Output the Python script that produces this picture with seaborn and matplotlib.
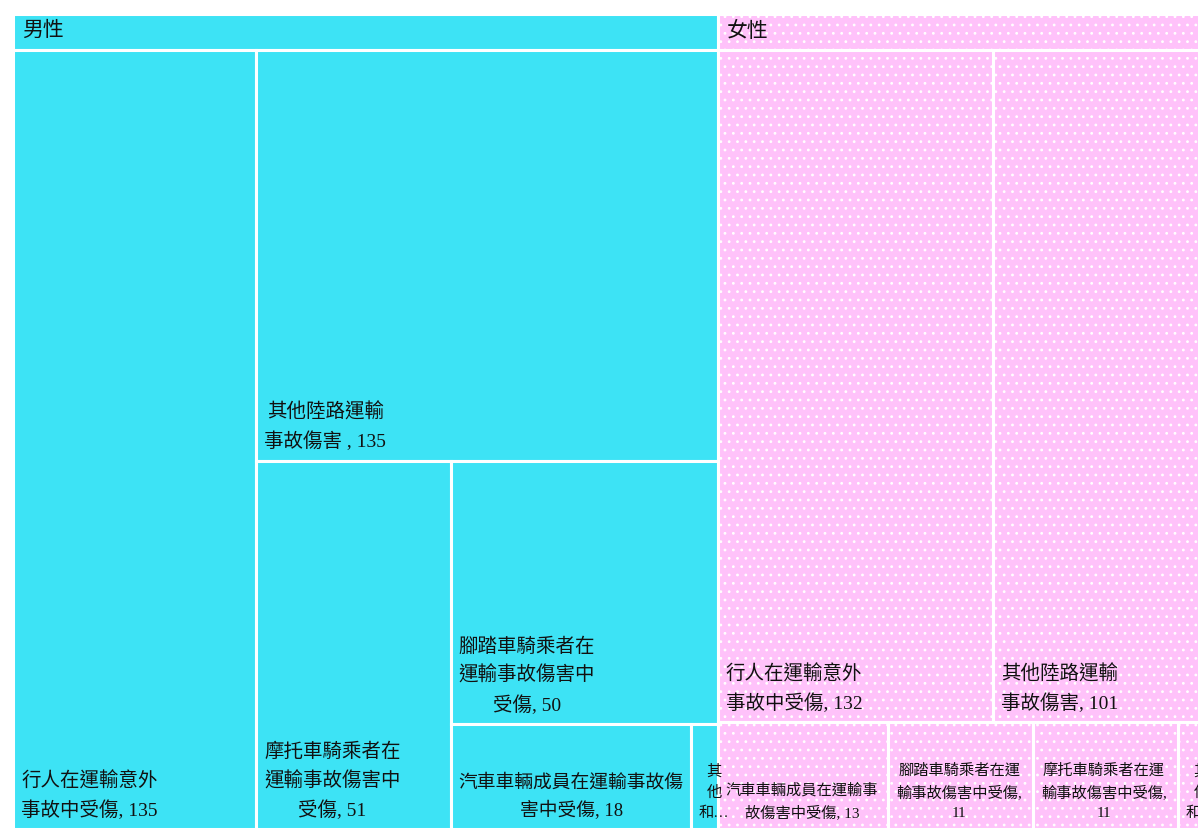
import matplotlib
matplotlib.use("Agg")
import matplotlib.pyplot as plt
from matplotlib.patches import Rectangle
import seaborn as sns

# ==============================
# DATA
# ==============================
groups = ["男性", "女性"]

male_values = [135, 135, 51, 50, 18, 2]
male_labels = [
    "行人在運輸意外\n事故中受傷, {v}",
    "其他陸路運輸\n事故傷害 , {v}",
    "摩托車騎乘者在\n運輸事故傷害中\n受傷, {v}",
    "腳踏車騎乘者在\n運輸事故傷害中\n受傷, {v}",
    "汽車車輛成員在運輸事故傷\n害中受傷, {v}",
    "其\n他\n和…",
]

female_values = [132, 101, 13, 11, 11, 2]
female_labels = [
    "行人在運輸意外\n事故中受傷, {v}",
    "其他陸路運輸\n事故傷害, {v}",
    "汽車車輛成員在運輸事\n故傷害中受傷, {v}",
    "腳踏車騎乘者在運\n輸事故傷害中受傷,\n{v}",
    "摩托車騎乘者在運\n輸事故傷害中受傷,\n{v}",
    "其\n他\n和…",
]

# how each group is cut into strips: (items in strip, direction)
male_strips = [(1, "col"), (1, "row"), (1, "col"), (1, "row"), (2, "row")]
female_strips = [(2, "row"), (4, "row")]

# ==============================
# SETUP
# ==============================
sns.set_theme(style="white")
plt.rcParams["font.family"] = ["Liberation Serif", "Noto Sans CJK TC"]
plt.rcParams["hatch.color"] = "white"
plt.rcParams["hatch.linewidth"] = 0.8

colors = {"男性": "#3DE3F5", "女性": "#FFC2FA"}
hatches = {"男性": None, "女性": ".."}

W, H = 1198, 831
fig = plt.figure(figsize=(W / 100, H / 100), dpi=100)
ax = fig.add_axes([0, 0, 1, 1])
ax.set_xlim(0, W)
ax.set_ylim(H, 0)
ax.axis("off")
renderer = fig.canvas.get_renderer()

# treemap frame (pixels), header height
X0, Y0, X1, Y1 = 13, 14, 1204, 829
HEAD = 35.5
LW = 2.2


def strip_layout(values, strips, x0, y0, x1, y1):
    rects = []
    i = 0
    for n, kind in strips:
        chunk = values[i:i + n]
        frac = sum(chunk) / sum(values[i:])
        if kind == "col":
            xe = x0 + (x1 - x0) * frac
            yy = y0
            for v in chunk:
                h = (y1 - y0) * v / sum(chunk)
                rects.append((x0, yy, xe - x0, h))
                yy += h
            x0 = xe
        else:
            ye = y0 + (y1 - y0) * frac
            xx = x0
            for v in chunk:
                w = (x1 - x0) * v / sum(chunk)
                rects.append((xx, y0, w, ye - y0))
                xx += w
            y0 = ye
        i += n
    return rects


def fit_text(x, y, s, maxw, size=14, minsize=11):
    t = ax.text(x, y, s, ha="left", va="bottom", multialignment="center",
                fontsize=size, linespacing=1.65, color="#111111")
    while size > minsize:
        if t.get_window_extent(renderer=renderer).width <= maxw:
            break
        size -= 0.5
        t.set_fontsize(size)
    return t


totals = [sum(male_values), sum(female_values)]
data = {
    "男性": (male_values, male_labels, male_strips),
    "女性": (female_values, female_labels, female_strips),
}

gx = X0
for g, tot in zip(groups, totals):
    gw = (X1 - X0) * tot / sum(totals)
    vals, labs, strips = data[g]
    # header
    ax.add_patch(Rectangle((gx, Y0), gw, HEAD, facecolor=colors[g],
                           edgecolor="white", lw=LW, hatch=hatches[g]))
    ax.text(gx + 9, Y0 + HEAD / 2, g, ha="left", va="center", fontsize=15,
            color="#111111")
    # cells
    rects = strip_layout(vals, strips, gx, Y0 + HEAD, gx + gw, Y1)
    for (rx, ry, rw, rh), v, lab in zip(rects, vals, labs):
        ax.add_patch(Rectangle((rx, ry), rw, rh, facecolor=colors[g],
                               edgecolor="white", lw=LW, hatch=hatches[g]))
        fit_text(rx + 8, ry + rh - 9, lab.format(v=v), rw - 14)
    gx += gw

fig.savefig("out.png", dpi=100)
